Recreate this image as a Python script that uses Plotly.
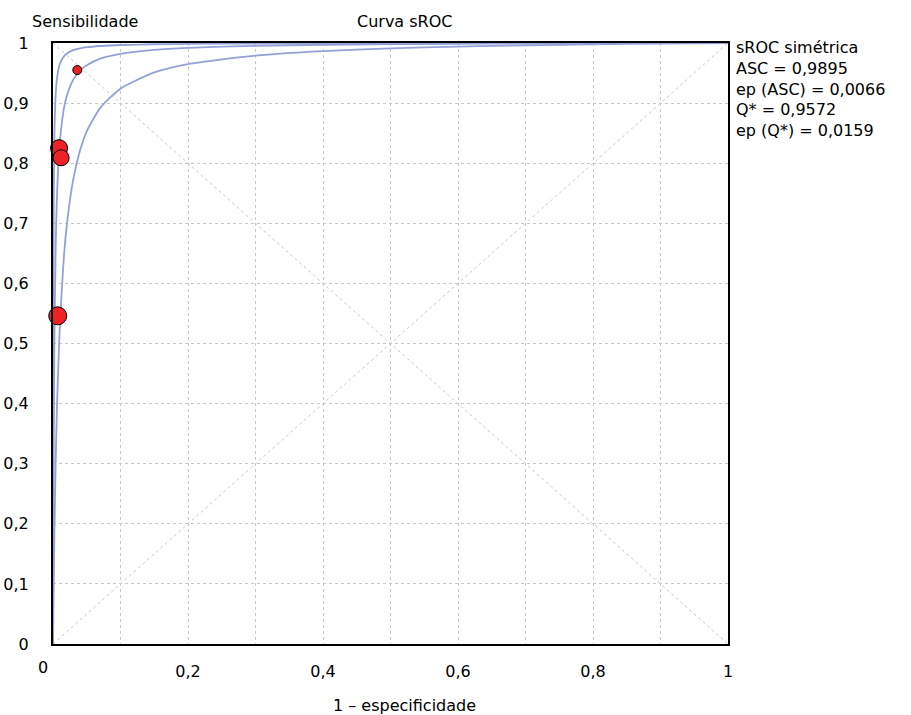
import plotly.graph_objects as go

# Curves (1 - specificity, sensitivity)
fpr_lower = [0, 0.001, 0.002, 0.004, 0.006, 0.01, 0.015, 0.02, 0.03, 0.04, 0.05, 0.07, 0.1, 0.15, 0.2, 0.3, 0.4, 0.5, 0.6, 0.7, 0.8, 0.9, 1]
tpr_lower = [0, 0.099, 0.181, 0.306, 0.399, 0.526, 0.626, 0.692, 0.773, 0.821, 0.853, 0.892, 0.924, 0.951, 0.965, 0.979, 0.9865, 0.991, 0.994, 0.996, 0.9977, 0.999, 1]

fpr_mid = [0, 0.0005, 0.001, 0.002, 0.004, 0.006, 0.01, 0.015, 0.02, 0.03, 0.04, 0.05, 0.07, 0.1, 0.15, 0.2, 0.3, 0.4, 0.5, 0.6, 0.7, 0.8, 0.9, 1]
tpr_mid = [0, 0.198, 0.330, 0.497, 0.664, 0.749, 0.833, 0.883, 0.910, 0.939, 0.954, 0.963, 0.974, 0.982, 0.9886, 0.992, 0.9953, 0.997, 0.998, 0.9986, 0.9991, 0.9995, 0.9998, 1]

fpr_upper = [0, 0.0001, 0.0002, 0.0005, 0.001, 0.002, 0.004, 0.006, 0.01, 0.015, 0.02, 0.03, 0.04, 0.05, 0.07, 0.1, 0.15, 0.2, 0.3, 0.4, 0.5, 0.7, 1]
tpr_upper = [0, 0.212, 0.350, 0.574, 0.730, 0.844, 0.915, 0.942, 0.965, 0.976, 0.982, 0.988, 0.991, 0.993, 0.995, 0.9967, 0.9979, 0.9985, 0.9991, 0.9994, 0.9996, 0.9998, 1]

# Studies
study_fpr = [0.036, 0.009, 0.012, 0.007]
study_tpr = [0.955, 0.825, 0.809, 0.546]
study_size = [9, 17, 16, 18]

x_tickvals = [0, 0.2, 0.4, 0.6, 0.8, 1]
x_ticktext = ["", "0,2", "0,4", "0,6", "0,8", "1"]
y_tickvals = [0, 0.1, 0.2, 0.3, 0.4, 0.5, 0.6, 0.7, 0.8, 0.9, 1]
y_ticktext = ["0", "0,1", "0,2", "0,3", "0,4", "0,5", "0,6", "0,7", "0,8", "0,9", "1"]

stats_lines = ["sROC simétrica", "ASC = 0,9895", "ep (ASC) = 0,0066", "Q* = 0,9572", "ep (Q*) = 0,0159"]

FONT = "DejaVu Sans"
curve_color = "#93a1d6"
grid_color = "#c8c8c8"

fig = go.Figure()

# diagonals
fig.add_trace(go.Scatter(x=[0, 1], y=[0, 1], mode="lines",
                         line=dict(color=grid_color, width=1, dash="dot"), hoverinfo="skip"))
fig.add_trace(go.Scatter(x=[0, 1], y=[1, 0], mode="lines",
                         line=dict(color=grid_color, width=1, dash="dot"), hoverinfo="skip"))

for fx, fy in [(fpr_lower, tpr_lower), (fpr_mid, tpr_mid), (fpr_upper, tpr_upper)]:
    fig.add_trace(go.Scatter(x=fx, y=fy, mode="lines",
                             line=dict(color=curve_color, width=1.8, shape="spline", smoothing=0.6)))

fig.add_trace(go.Scatter(x=study_fpr, y=study_tpr, mode="markers",
                         marker=dict(color="#ee2126", size=study_size, opacity=1,
                                     line=dict(color="black", width=1)),
                         cliponaxis=False))

fig.update_layout(
    width=911, height=715,
    margin=dict(l=53, r=183, t=43, b=71, autoexpand=False),
    plot_bgcolor="white", paper_bgcolor="white",
    showlegend=False,
    font=dict(family=FONT, size=16, color="black"),
)
fig.update_xaxes(range=[0, 1], tickvals=x_tickvals, ticktext=x_ticktext, automargin=False,
                 showgrid=True, gridcolor=grid_color, griddash="dot", gridwidth=1,
                 minor=dict(dtick=0.1, showgrid=True, gridcolor=grid_color, griddash="dot", gridwidth=1),
                 showline=True, linecolor="black", linewidth=2, mirror=True,
                 zeroline=False, ticks="", ticklabelstandoff=12)
fig.update_yaxes(range=[0, 1], tickvals=y_tickvals, ticktext=y_ticktext, automargin=False,
                 showgrid=True, gridcolor=grid_color, griddash="dot", gridwidth=1,
                 showline=True, linecolor="black", linewidth=2, mirror=True,
                 zeroline=False, ticks="", ticklabelstandoff=19)

fig.add_annotation(text="0", x=0, y=0, xref="paper", yref="paper", showarrow=False,
                   xanchor="center", yanchor="middle", xshift=-10, yshift=-23)
fig.add_annotation(text="Sensibilidade", x=0, y=1, xref="paper", yref="paper", showarrow=False,
                   xanchor="center", yanchor="middle", xshift=32, yshift=22)
fig.add_annotation(text="Curva sROC", x=(404 - 53) / 675, y=1, xref="paper", yref="paper",
                   showarrow=False, xanchor="center", yanchor="middle", yshift=22)
fig.add_annotation(text="1 – especificidade", x=(404 - 53) / 675, y=0, xref="paper", yref="paper",
                   showarrow=False, xanchor="center", yanchor="middle", yshift=-61)
fig.add_annotation(text="<br>".join(stats_lines), x=1, y=1, xref="paper", yref="paper",
                   showarrow=False, xanchor="left", yanchor="top", align="left",
                   xshift=6, yshift=7)

fig.write_html("out.html", config={"displayModeBar": False},
               post_script="document.body.style.margin='0';document.body.style.overflow='hidden';")
